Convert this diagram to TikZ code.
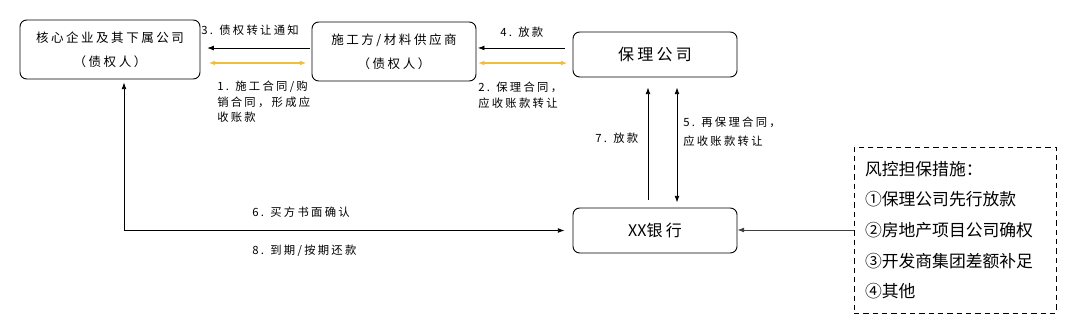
\documentclass[tikz,border=0pt]{standalone}
\usepackage{fontspec}
\setmainfont{Noto Sans CJK SC}[LetterSpace=20]
\newfontfamily\tightcjk{Noto Sans CJK SC}
\usepackage{tikz}
\usetikzlibrary{arrows.meta,calc,positioning}
\usepackage{xcolor}
\definecolor{goldline}{RGB}{238,190,60}

\tikzset{
  box/.style={draw, rounded corners=5pt, align=center, inner sep=0pt, line width=0.7pt,
    font=\fontsize{9.4}{18}\selectfont},
  bigbox/.style={box, font=\fontsize{12}{14}\selectfont},
  dashbox/.style={draw, dashed, dash pattern=on 4pt off 3pt, line width=0.7pt, align=left,
    text width=135pt, inner xsep=8.25pt, font=\tightcjk\fontsize{12.6}{23}\selectfont},
  lbl/.style={anchor=west, align=left, inner sep=0pt, font=\fontsize{8.5}{11.6}\selectfont},
  arr/.style={-{Latex[length=5pt,width=3.6pt]}, line width=0.6pt},
  dbl/.style={{Latex[length=5pt,width=3.6pt]}-{Latex[length=5pt,width=3.6pt]}, line width=0.6pt},
  gold/.style={dbl, draw=goldline, line width=1pt}
}

\begin{document}
\begin{tikzpicture}[x=0.75pt,y=0.75pt]
\useasboundingbox (0,0) rectangle (1080,325);
% Soggetti
\node[box, minimum width=135pt, minimum height=44.25pt] (hexin) at (110,275.5) {核心企业及其下属公司\\（债权人）};
\node[box, minimum width=123pt, minimum height=44.25pt] (shigong) at (394,273.5) {施工方/材料供应商\\（债权人）};
\node[bigbox, minimum width=123pt, minimum height=33.75pt] (baoli) at (655,270.5) {保理公司};
\node[bigbox, minimum width=123pt, minimum height=33.75pt] (yinhang) at (655,94.5) {{\tightcjk XX}银行};
\node[dashbox, minimum height=124.5pt] (fengkong) at (955,95) {风控担保措施：\\①保理公司先行放款\\②房地产项目公司确权\\③开发商集团差额补足\\④其他};
% Frecce
\draw[arr, shorten <=1pt, shorten >=5pt] ([yshift=2.6pt]shigong.west) -- ([yshift=2.6pt]shigong.west -| hexin.east);
\draw[gold, shorten <=3.75pt, shorten >=6pt] ([yshift=-8.6pt]shigong.west) -- ([yshift=-8.6pt]shigong.west -| hexin.east);
\draw[arr, shorten <=6pt, shorten >=1pt] ([yshift=4.9pt]baoli.west) -- ([yshift=4.9pt]baoli.west -| shigong.east);
\draw[gold, shorten <=3.75pt, shorten >=1pt] ([yshift=-6.4pt]baoli.west) -- ([yshift=-6.4pt]baoli.west -| shigong.east);
\draw[arr, shorten <=6pt, shorten >=7.5pt] ([xshift=-5.25pt]yinhang.north) -- ([xshift=-5.25pt]yinhang.north |- baoli.south);
\draw[dbl, shorten <=3.75pt, shorten >=7.5pt] ([xshift=16.5pt]yinhang.north) -- ([xshift=16.5pt]yinhang.north |- baoli.south);
\draw[dbl, shorten <=2.25pt, shorten >=6pt] ([xshift=10.5pt]hexin.south) |- (yinhang.west);
\draw[arr, line width=0.45pt, draw=black!75] (fengkong.west) -- (fengkong.west -| yinhang.east);
% Etichette
\node[lbl] (l3) at (201,295) {3. 债权转让通知};
\node[lbl] (l1) at (217,223) {1. 施工合同/购\\销合同，形成应\\收账款};
\node[lbl] (l4) at (500,293) {4. 放款};
\node[lbl] (l2) at (478,230) {2. 保理合同，\\应收账款转让};
\node[lbl] (l7) at (595,187) {7. 放款};
\node[lbl, font=\fontsize{8.5}{14.3}\selectfont] (l5) at (683,193.5) {5. 再保理合同，\\应收账款转让};
\node[lbl] (l6) at (252,113) {6. 买方书面确认};
\node[lbl] (l8) at (252,74) {8. 到期/按期还款};
\end{tikzpicture}
\end{document}
